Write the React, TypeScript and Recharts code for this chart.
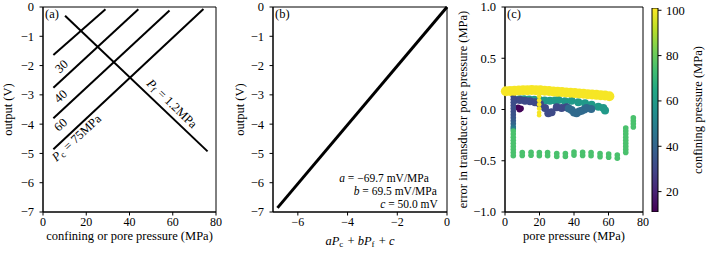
import React from "react";
import {
    ComposedChart,
    ScatterChart,
    Scatter,
    Line,
    Bar,
    XAxis,
    YAxis,
    ReferenceArea,
    ReferenceDot,
    Label,
} from "recharts";

const FONT = "Liberation Serif, Times New Roman, DejaVu Serif, serif";
const FS = 12.5;

// panel (a): calibration lines, [pressure (MPa), output (V)]
const PC30_LINE = [[4.8, -1.64], [28.9, -0.08]];
const PC40_LINE = [[4.8, -2.76], [44.1, -0.08]];
const PC60_LINE = [[4.8, -3.80], [58.5, -0.12]];
const PC75_LINE = [[4.8, -4.86], [74.2, -0.07]];
const PF12_LINE = [[10.2, -0.30], [76.1, -4.93]];

// panel (b): model vs output
const FIT_X = [-6.82, 0];
const FIT_Y = [-6.86, 0];

// panel (c): error runs (pore pressure, error, confining pressure)
const YEL_PF = [0.5, 3, 5.5, 8, 10.5, 13, 15.5, 18, 20.5, 23, 25.5, 28, 30.5, 33, 35.5, 38, 40.5, 43, 45.5, 48, 50.5, 53, 55.5, 58, 60.5];
const YEL_ERR = [0.178, 0.18, 0.182, 0.185, 0.187, 0.189, 0.19, 0.189, 0.187, 0.183, 0.18, 0.176, 0.172, 0.17, 0.166, 0.163, 0.16, 0.157, 0.154, 0.15, 0.147, 0.143, 0.14, 0.136, 0.13];
const SPIKE_PF = [19.8, 19.8, 19.8, 19.8, 19.8, 19.8];
const SPIKE_ERR = [0.13, 0.09, 0.05, 0.01, -0.03, -0.055];

const BLUE_PF = [5.8, 8.7, 11.6, 14.5, 17.4, 20.3, 23.2, 25.1, 27, 30, 32.8, 35.7];
const BLUE_ERR = [0.093, 0.093, 0.086, 0.08, 0.07, 0.053, 0.015, -0.037, -0.028, 0.021, 0.015, 0.021];
const MIDBLUE_PF = [37, 38.6, 40, 41.5, 43, 44.4, 46, 47.3, 50];
const MIDBLUE_ERR = [0.01, -0.005, -0.03, -0.037, -0.02, -0.011, 0.0, 0.015, 0.005];
const TEAL_PF = [8.5, 11, 14, 17, 20, 23, 26, 29, 31, 34.8, 38.6, 42.5, 46.4, 50.2, 54.1, 57, 58];
const TEAL_ERR = [0.1, 0.1, 0.098, 0.095, 0.092, 0.088, 0.085, 0.088, 0.093, 0.08, 0.086, 0.07, 0.06, 0.047, 0.028, 0.015, -0.01];
const PURPLE_PF = [7.6, 8.4, 9.2];
const PURPLE_ERR = [0.02, 0.0, 0.01];

const RAMP_PF = [4.8, 4.8, 4.8, 4.8, 4.8, 4.8, 4.8, 4.8, 4.8, 4.8, 4.8, 4.8];
const RAMP_ERR = [0.13, 0.1, 0.07, 0.04, 0.01, -0.02, -0.05, -0.08, -0.11, -0.14, -0.17, -0.19];
const RAMP_PC = [31, 31, 32, 32, 33, 33, 34, 35, 37, 40, 45, 50];

const GREEN_PF = [
    4.8, 4.8, 4.8, 4.8, 4.8, 4.8, 4.8, 4.8, 4.8,
    10, 10, 15.1, 15.1, 19.9, 19.9, 24.7, 24.7, 30, 30, 35, 35, 40, 40, 45, 45, 49.9, 49.9, 55.1, 55.1, 60.1, 60.1, 65.1, 65.1,
    70, 70, 70, 70, 70, 70, 70, 70, 70,
    74.4, 74.4, 74.4, 74.4,
];
const GREEN_ERR = [
    -0.21, -0.24, -0.27, -0.3, -0.33, -0.36, -0.39, -0.42, -0.45,
    -0.419, -0.449, -0.417, -0.447, -0.42, -0.45, -0.42, -0.45, -0.429, -0.459, -0.429, -0.459, -0.415, -0.445, -0.418, -0.448, -0.42, -0.45, -0.43, -0.46, -0.435, -0.465, -0.445, -0.475,
    -0.18, -0.21, -0.24, -0.27, -0.3, -0.33, -0.36, -0.39, -0.42,
    -0.08, -0.11, -0.14, -0.17,
];

const A_Y_TICKS = [0, -1, -2, -3, -4, -5, -6, -7];
const A_X_TICKS = [0, 20, 40, 60, 80];
const B_X_TICKS = [-6, -4, -2, 0];
const C_Y_TICKS = [1, 0.5, 0, -0.5, -1];
const CBAR_TICKS = [20, 40, 60, 80, 100];
const PC_MIN = 11;
const PC_MAX = 101;

const VIRIDIS = ["#440154", "#482475", "#414487", "#355f8d", "#2a788e", "#21918c", "#22a884", "#44bf70", "#7ad151", "#bddf26", "#fde725"];

function hexToRgb(h: string) {
    return [1, 3, 5].map(i => parseInt(h.slice(i, i + 2), 16));
}

function viridis(v: number) {
    const t = Math.min(1, Math.max(0, (v - PC_MIN) / (PC_MAX - PC_MIN)));
    const s = t * (VIRIDIS.length - 1);
    const i = Math.min(VIRIDIS.length - 2, Math.floor(s));
    const f = s - i;
    const a = hexToRgb(VIRIDIS[i]);
    const b = hexToRgb(VIRIDIS[i + 1]);
    const c = a.map((x, k) => Math.round(x + (b[k] - x) * f));
    return `rgb(${c[0]},${c[1]},${c[2]})`;
}

const toLine = (pts: number[][]) => pts.map(([x, y]) => ({ x, y }));
const run = (pf: number[], err: number[], pc: number | number[]) =>
    pf.map((x, i) => ({ pf: x, err: err[i], pc: Array.isArray(pc) ? pc[i] : pc }));

const minus = (v: number, digits = 0) => {
    const s = Math.abs(v).toFixed(digits);
    return v < 0 ? `\u2212${s}` : s;
};

const tickStyle = { fontSize: FS, fill: "#000", fontFamily: FONT, style: { fontFamily: FONT } };
const axisProps = {
    tick: tickStyle,
    tickLine: { stroke: "#000" },
    axisLine: { stroke: "#000" },
    tickSize: 3.5,
};
const xTick = { ...tickStyle, fontSize: 12 };

const textProps = { fontSize: FS, fill: "#000", style: { fontFamily: FONT } };

const YTitle = ({ viewBox, value, dx }: any) => {
    const x = viewBox.x + dx;
    const y = viewBox.y + viewBox.height / 2;
    return (
        <text x={x} y={y} transform={`rotate(-90 ${x} ${y})`} textAnchor="middle" dominantBaseline="central" {...textProps}>
            {value}
        </text>
    );
};

const XTitle = ({ viewBox, value, dy }: any) => {
    const x = viewBox.x + viewBox.width / 2;
    const y = viewBox.y + dy;
    return (
        <text x={x} y={y} textAnchor="middle" dominantBaseline="central" {...textProps}>
            {value}
        </text>
    );
};

const rotText = (content: React.ReactNode, angle: number) => (p: any) => (
    <text
        x={p.cx}
        y={p.cy}
        transform={`rotate(${angle} ${p.cx} ${p.cy})`}
        textAnchor="middle"
        dominantBaseline="central"
        {...textProps}
    >
        {content}
    </text>
);

const endText = (content: React.ReactNode) => (p: any) => (
    <text x={p.cx} y={p.cy} textAnchor="end" dominantBaseline="central" {...textProps} fontSize={11.5}>
        {content}
    </text>
);

const dotShape = (r: number) => (p: any) =>
    <circle cx={p.cx} cy={p.cy} r={r} fill={viridis(p.payload.pc)} />;

const Sub = ({ children }: { children: string }) => (
    <>
        <tspan dy={3} fontSize={9}>{children}</tspan>
        <tspan dy={-3}>{"\u200a"}</tspan>
    </>
);

const PanelA = () => (
    <ComposedChart width={230} height={255} margin={{ top: 7, right: 14, bottom: 0, left: 0 }}>
        <XAxis type="number" dataKey="x" domain={[0, 80]} ticks={A_X_TICKS} interval={0} height={43} tickMargin={2} {...axisProps} tick={xTick}>
            <Label content={(p: any) => <XTitle {...p} value="confining or pore pressure (MPa)" dy={24} />} />
        </XAxis>
        <YAxis type="number" domain={[-7, 0]} ticks={A_Y_TICKS} interval={0} width={43} tickMargin={5.5}
            tickFormatter={(v: number) => minus(v)} {...axisProps}>
            <Label content={(p: any) => <YTitle {...p} value="output (V)" dx={8} />} />
        </YAxis>
        <ReferenceArea x1={0} x2={80} y1={-7} y2={0} fill="none" stroke="#000" strokeWidth={1}
            label={{ value: "(a)", position: "insideTopLeft", offset: 2, ...textProps }} />
        {[PC30_LINE, PC40_LINE, PC60_LINE, PC75_LINE, PF12_LINE].map((l, i) => (
            <Line key={i} data={toLine(l)} dataKey="y" stroke="#000" strokeWidth={2} dot={false} isAnimationActive={false} />
        ))}
        <ReferenceDot x={8.6} y={-2.03} shape={rotText("30", -43)} />
        <ReferenceDot x={8.2} y={-3.05} shape={rotText("40", -43)} />
        <ReferenceDot x={8.2} y={-4.02} shape={rotText("60", -43)} />
        <ReferenceDot x={15.5} y={-4.47} shape={rotText(
            <>
                <tspan fontStyle="italic">P</tspan>
                <Sub>c</Sub>
                <tspan> = 75MPa</tspan>
            </>, -43)} />
        <ReferenceDot x={59.6} y={-3.3} shape={rotText(
            <>
                <tspan fontStyle="italic">P</tspan>
                <Sub>f</Sub>
                <tspan> = 1.2MPa</tspan>
            </>, 44)} />
    </ComposedChart>
);

const fitData = FIT_X.map((x, i) => ({ x, y: FIT_Y[i] }));

const PanelB = () => (
    <ComposedChart width={222} height={255} margin={{ top: 7, right: 5, bottom: 0, left: 0 }}>
        <XAxis type="number" dataKey="x" domain={[-7, 0]} ticks={B_X_TICKS} interval={0} height={43} tickMargin={2}
            tickFormatter={(v: number) => minus(v)} {...axisProps} tick={xTick}>
            <Label content={(p: any) => (
                <XTitle {...p} dy={29} value={
                    <>
                        <tspan fontStyle="italic">aP</tspan>
                        <Sub>c</Sub>
                        <tspan> + </tspan>
                        <tspan fontStyle="italic">bP</tspan>
                        <Sub>f</Sub>
                        <tspan> + </tspan>
                        <tspan fontStyle="italic">c</tspan>
                    </>
                } />
            )} />
        </XAxis>
        <YAxis type="number" domain={[-7, 0]} ticks={A_Y_TICKS} interval={0} width={43} tickMargin={5.5}
            tickFormatter={(v: number) => minus(v)} {...axisProps}>
            <Label content={(p: any) => <YTitle {...p} value="output (V)" dx={10} />} />
        </YAxis>
        <ReferenceArea x1={-7} x2={0} y1={-7} y2={0} fill="none" stroke="#000" strokeWidth={1}
            label={{ value: "(b)", position: "insideTopLeft", offset: 2, ...textProps }} />
        <Line data={fitData} dataKey="y" stroke="#000" strokeWidth={3} dot={false} isAnimationActive={false} />
        <ReferenceDot x={-0.73} y={-5.83} shape={endText(
            <><tspan fontStyle="italic">a</tspan> = {"\u2212"}69.7 mV/MPa</>)} />
        <ReferenceDot x={-0.41} y={-6.27} shape={endText(
            <><tspan fontStyle="italic">b</tspan> = 69.5 mV/MPa</>)} />
        <ReferenceDot x={-0.37} y={-6.71} shape={endText(
            <><tspan fontStyle="italic">c</tspan> = 50.0 mV</>)} />
    </ComposedChart>
);

const SERIES_C = [
    { data: run(TEAL_PF, TEAL_ERR, 59), r: 4 },
    { data: run(BLUE_PF, BLUE_ERR, 31), r: 4 },
    { data: run(MIDBLUE_PF, MIDBLUE_ERR, 42), r: 4 },
    { data: run(PURPLE_PF, PURPLE_ERR, 12), r: 3 },
    { data: run(RAMP_PF, RAMP_ERR, RAMP_PC), r: 2.8 },
    { data: run(GREEN_PF, GREEN_ERR, 75), r: 2.8 },
    { data: run(YEL_PF, YEL_ERR, 100), r: 5 },
    { data: run(SPIKE_PF, SPIKE_ERR, 100), r: 2.3 },
];

const PanelC = () => (
    <ScatterChart width={198} height={255} margin={{ top: 7, right: 7, bottom: 0, left: 0 }}>
        <XAxis type="number" dataKey="pf" domain={[0, 80]} ticks={A_X_TICKS} interval={0} height={43} tickMargin={2} {...axisProps} tick={xTick}>
            <Label content={(p: any) => <XTitle {...p} value="pore pressure (MPa)" dy={24} />} />
        </XAxis>
        <YAxis type="number" dataKey="err" domain={[-1, 1]} ticks={C_Y_TICKS} interval={0} width={53} tickMargin={5.5}
            tickFormatter={(v: number) => minus(v, 1)} {...axisProps}>
            <Label content={(p: any) => <YTitle {...p} value="error in transducer pore pressure (MPa)" dx={11} />} />
        </YAxis>
        <ReferenceArea x1={0} x2={80} y1={-1} y2={1} fill="none" stroke="#000" strokeWidth={1}
            label={{ value: "(c)", position: "insideTopLeft", offset: 2, ...textProps }} />
        {SERIES_C.map((s, i) => (
            <Scatter key={i} data={s.data} shape={dotShape(s.r)} isAnimationActive={false} />
        ))}
    </ScatterChart>
);

const cbarData = [{ name: "pc", range: [PC_MIN, PC_MAX] }];

const ColorBar = () => (
    <ComposedChart width={63} height={255} data={cbarData} barCategoryGap={0}
        margin={{ top: 8, right: 0, bottom: 43, left: 7 }}>
        <XAxis type="category" dataKey="name" hide />
        <YAxis type="number" orientation="right" domain={[PC_MIN, PC_MAX]} ticks={CBAR_TICKS} interval={0}
            allowDataOverflow width={50} tickMargin={4.5} {...axisProps} axisLine={false}>
            <Label content={(p: any) => <YTitle {...p} value="confining pressure (MPa)" dx={40} />} />
        </YAxis>
        <Bar dataKey="range" fill="url(#viridisGrad)" stroke="#000" strokeWidth={1} isAnimationActive={false} />
    </ComposedChart>
);

export default function App() {
    return (
        <div style={{ position: "absolute", left: 0, top: 0, width: 708, height: 255, background: "#fff", fontFamily: FONT }}>
            <svg width={0} height={0} style={{ position: "absolute" }}>
                <defs>
                    <linearGradient id="viridisGrad" x1="0" y1="1" x2="0" y2="0">
                        {VIRIDIS.map((c, i) => (
                            <stop key={i} offset={i / (VIRIDIS.length - 1)} stopColor={c} />
                        ))}
                    </linearGradient>
                </defs>
            </svg>
            <div style={{ position: "absolute", left: 0, top: 0 }}><PanelA /></div>
            <div style={{ position: "absolute", left: 230, top: 0 }}><PanelB /></div>
            <div style={{ position: "absolute", left: 452, top: 0 }}><PanelC /></div>
            <div style={{ position: "absolute", left: 645, top: 0 }}><ColorBar /></div>
        </div>
    );
}
